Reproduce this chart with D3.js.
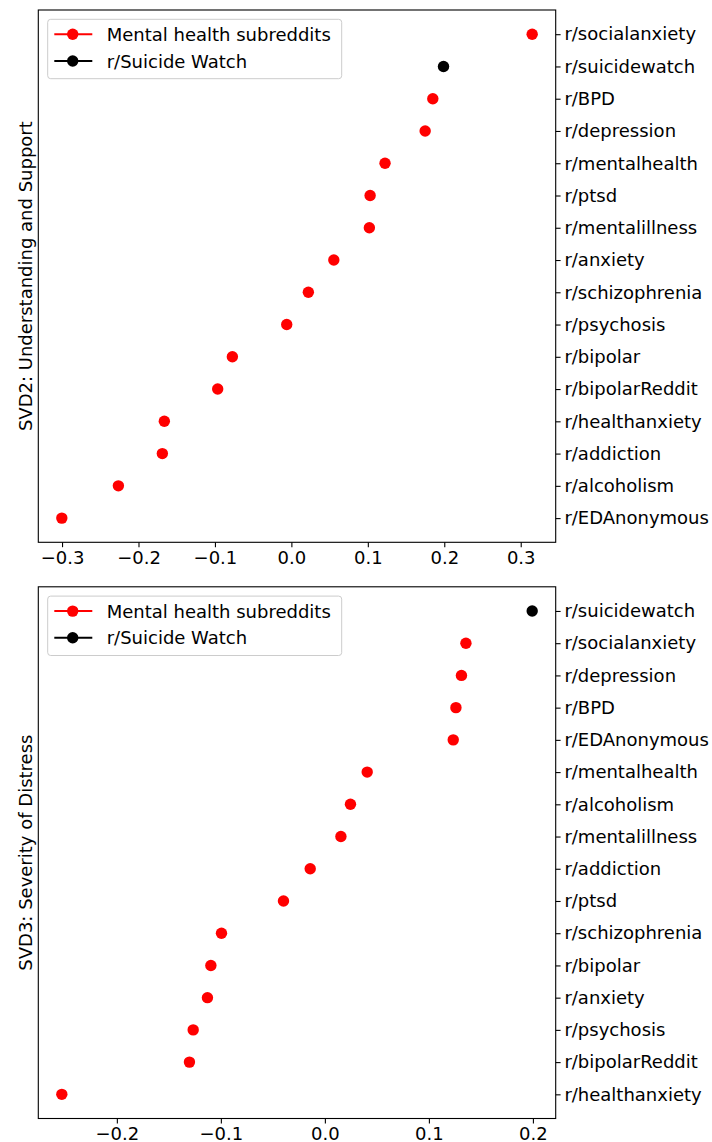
<!DOCTYPE html>
<html>
<head>
<meta charset="utf-8">
<script src="https://cdn.jsdelivr.net/npm/d3@7"></script>
<style>
  html, body { margin: 0; padding: 0; background: #fff; overflow: hidden; }
  svg text { font-family: "DejaVu Sans", sans-serif; }
</style>
</head>
<body>
<svg id="chart" width="712" height="1142"></svg>
<script>
// ---- Data ----
const svd2Labels = ["r/socialanxiety","r/suicidewatch","r/BPD","r/depression","r/mentalhealth","r/ptsd","r/mentalillness","r/anxiety","r/schizophrenia","r/psychosis","r/bipolar","r/bipolarReddit","r/healthanxiety","r/addiction","r/alcoholism","r/EDAnonymous"];
const svd2Values = [0.315, 0.199, 0.185, 0.175, 0.1225, 0.103, 0.102, 0.0555, 0.0222, -0.0061, -0.0772, -0.0964, -0.1662, -0.1688, -0.2263, -0.3003];
const svd2Ticks = [-0.3, -0.2, -0.1, 0.0, 0.1, 0.2, 0.3];

const svd3Labels = ["r/suicidewatch","r/socialanxiety","r/depression","r/BPD","r/EDAnonymous","r/mentalhealth","r/alcoholism","r/mentalillness","r/addiction","r/ptsd","r/schizophrenia","r/bipolar","r/anxiety","r/psychosis","r/bipolarReddit","r/healthanxiety"];
const svd3Values = [0.1993, 0.1356, 0.1313, 0.1260, 0.1234, 0.0407, 0.0246, 0.0154, -0.0141, -0.0398, -0.0994, -0.1096, -0.1129, -0.1266, -0.1302, -0.2529];
const svd3Ticks = [-0.2, -0.1, 0.0, 0.1, 0.2];

const highlight = "r/suicidewatch";
const legendLabels = ["Mental health subreddits", "r/Suicide Watch"];
const legendColors = ["#ff0000", "#000000"];
const yTitles = ["SVD2: Understanding and Support", "SVD3: Severity of Distress"];

// ---- Drawing ----
const svg = d3.select("#chart");
const FS = 18;
const left = 38.3, right = 555.7;

function drawPanel(labels, values, ticks, axTop, axBot, title) {
  const g = svg.append("g");
  const ext = d3.extent(values);
  const pad = (ext[1] - ext[0]) * 0.05;
  const x = d3.scaleLinear().domain([ext[0] - pad, ext[1] + pad]).range([left, right]);
  const y = d3.scalePoint().domain(labels).range([axTop, axBot]).padding(0.75);

  g.selectAll("circle.pt").data(labels).enter().append("circle")
    .attr("class", "pt")
    .attr("cx", (d, i) => x(values[i]))
    .attr("cy", d => y(d))
    .attr("r", 5.7)
    .attr("fill", d => d === highlight ? "#000000" : "#ff0000");

  const xAxis = d3.axisBottom(x).tickValues(ticks).tickFormat(d3.format(".1f"))
    .tickSizeInner(4.9).tickSizeOuter(0).tickPadding(4.3);
  const gx = g.append("g").attr("transform", `translate(0,${axBot})`).call(xAxis);
  gx.select(".domain").remove();
  gx.selectAll("line").attr("stroke", "#000").attr("stroke-width", 1.1);
  gx.selectAll("text").attr("font-size", FS).attr("fill", "#000").attr("font-family", "DejaVu Sans");

  const yAxis = d3.axisRight(y).tickSizeInner(4.9).tickSizeOuter(0).tickPadding(3.8);
  const gy = g.append("g").attr("transform", `translate(${right},0)`).call(yAxis);
  gy.select(".domain").remove();
  gy.selectAll("line").attr("stroke", "#000").attr("stroke-width", 1.1);
  gy.selectAll("text").attr("font-size", FS).attr("fill", "#000").attr("font-family", "DejaVu Sans");

  g.append("rect")
    .attr("x", left).attr("y", axTop)
    .attr("width", right - left).attr("height", axBot - axTop)
    .attr("fill", "none").attr("stroke", "#000").attr("stroke-width", 1.1);

  g.append("text")
    .attr("transform", `translate(31.8,${(axTop + axBot) / 2}) rotate(-90)`)
    .attr("text-anchor", "middle")
    .attr("font-size", FS)
    .attr("fill", "#000")
    .text(title);

  const lx = 47.7, ly = axTop + 9.3;
  g.append("rect")
    .attr("x", lx).attr("y", ly).attr("width", 294).attr("height", 59.4)
    .attr("rx", 3).attr("ry", 3)
    .attr("fill", "#fff").attr("fill-opacity", 0.8)
    .attr("stroke", "#cccccc").attr("stroke-width", 1);
  legendLabels.forEach((lab, i) => {
    const cy = ly + 15 + i * 26.7;
    g.append("line").attr("x1", lx + 6.6).attr("x2", lx + 44.6)
      .attr("y1", cy).attr("y2", cy)
      .attr("stroke", legendColors[i]).attr("stroke-width", 2);
    g.append("circle").attr("cx", lx + 25).attr("cy", cy).attr("r", 5.7)
      .attr("fill", legendColors[i]);
    g.append("text").attr("x", lx + 59).attr("y", cy + 6.5)
      .attr("font-size", FS).attr("fill", "#000").text(lab);
  });
}

drawPanel(svd2Labels, svd2Values, svd2Ticks, 10, 542.3, yTitles[0]);
drawPanel(svd3Labels, svd3Values, svd3Ticks, 586.8, 1118.5, yTitles[1]);
</script>
</body>
</html>
